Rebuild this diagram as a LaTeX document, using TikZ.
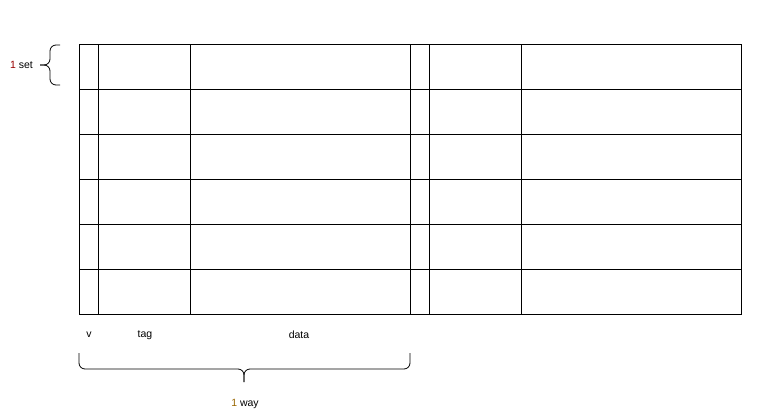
\documentclass[tikz,border=0pt]{standalone}
\usepackage{fontspec}
\setmainfont{Liberation Sans}
\usetikzlibrary{positioning}
\definecolor{SetRed}{HTML}{990000}
\definecolor{WayGold}{HTML}{996600}
\tikzset{
  cell/.style={draw=black,line width=0.8pt},
  brace/.style={draw=black,line width=0.8pt,rounded corners=6pt},
  lbl/.style={font=\fontsize{10.5}{12}\selectfont,inner sep=0pt}
}

\begin{document}
\begin{tikzpicture}[x=1pt,y=-1pt]
    \useasboundingbox (0,0) rectangle (772,418);
    % the two ways of the cache, six sets each
    \foreach \r in {0,...,5}{
      \foreach \xa/\xb in {79/98,98/190,190/410,410/429,429/521,521/741}{
        \draw[cell] (\xa,44+45*\r) rectangle (\xb,89+45*\r);
      }
    }
    % column labels
    \node[lbl] (vlbl) at (89,335) {v};
    \node[lbl] (taglbl) at (145,335) {tag};
    \node[lbl] (datalbl) at (299,335) {data};
    % brace for one set
    \coordinate (settip) at (40,65);
    \draw[brace] (60,45) -- (50,45) -- (50,65) -- (settip);
    \draw[brace] (60,85) -- (50,85) -- (50,65) -- (settip);
    \node[lbl,anchor=east] (setlbl) at (33,65) {\textcolor{SetRed}{1} set};
    % brace for one way
    \coordinate (waytip) at (244,382);
    \draw[brace] (79,353) -- (79,369) -- (244,369) -- (waytip);
    \draw[brace] (410,353) -- (410,369) -- (244,369) -- (waytip);
    \node[lbl] (waylbl) at (245,404) {\textcolor{WayGold}{1} way};
  \end{tikzpicture}
\end{document}
